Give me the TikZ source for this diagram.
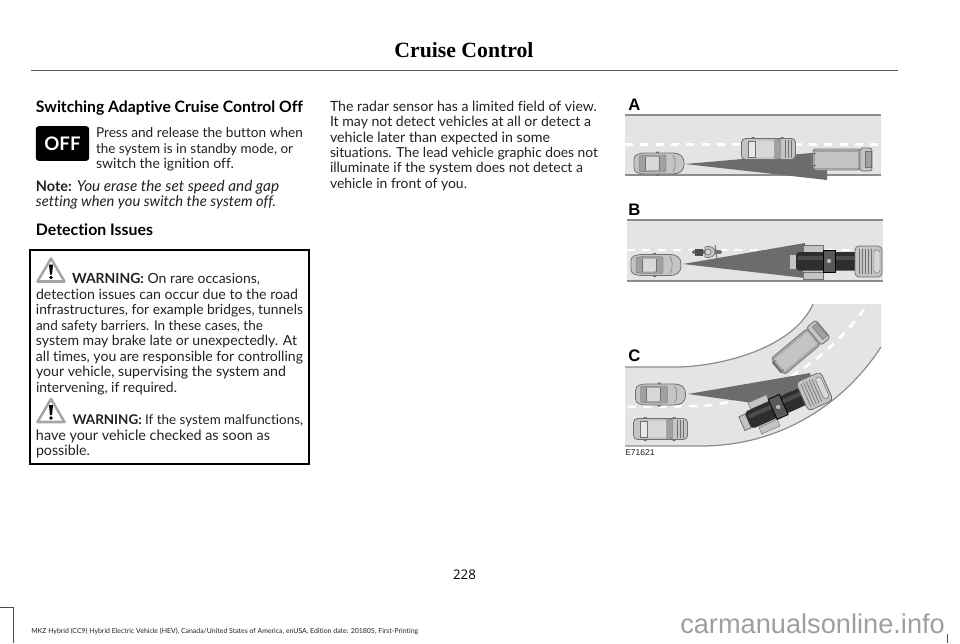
\documentclass[tikz,border=0pt]{standalone}
\usepackage{graphicx}
\usepackage{fontspec}
\setmainfont[Ligatures=NoCommon]{Lato}
\newfontfamily\headfont{Liberation Serif}
\newfontfamily\numfont{Open Sans}
\newfontfamily\lblfont{Liberation Sans}
\definecolor{roadc}{HTML}{E4E4E4}
\definecolor{edgec}{HTML}{8C8C8C}
\definecolor{conec}{HTML}{6C6C6C}
\definecolor{bodyc}{HTML}{C4C4C4}
\definecolor{roofc}{HTML}{D8D8D8}
\definecolor{glassc}{HTML}{A0A0A0}
\definecolor{outc}{HTML}{707070}
\definecolor{inkc}{HTML}{222222}
\newcommand{\ital}[1]{{\fontsize{11.2}{12}\selectfont\itshape #1}}
\newcommand{\fw}[2]{\resizebox{#1pt}{!}{#2}}
\tikzset{
 body/.style={anchor=base west,inner sep=0,outer sep=0,text=inkc,font=\fontsize{10.6}{12}\selectfont},
 head/.style={body,text=black,font=\fontsize{11.9}{13}\bfseries\selectfont},
 letter/.style={anchor=base west,inner sep=0,text=black,font=\lblfont\fontsize{12.5}{14}\bfseries\selectfont},
 veh/.style={fill=bodyc,draw=outc,line width=0.6pt},
 thin/.style={draw=outc,line width=0.35pt},
 roadline/.style={draw=edgec,line width=0.9pt},
 dashline/.style={draw=white,line width=1.9pt,dash pattern=on 6pt off 5.5pt},
 cone/.style={fill=conec,draw=none},
 pics/warnicon/.style={code={
   \draw[draw=gray!70,line width=1.9pt,line join=round,fill=white] (0,0) -- (27,0) -- (13.5,-23) -- cycle;
   \fill[black] (11.5,-17) -- (15.5,-17) -- (14.5,-7) -- (12.5,-7) -- cycle;
   \fill[black] (13.5,-4) circle (1.9);
 }},
 pics/car/.style={code={
   \draw[veh] (-25,-4) .. controls (-25,-9) and (-21,-10.5) .. (-12,-10.5) -- (12,-10.5) .. controls (21,-10.5) and (25,-8) .. (25,0) .. controls (25,8) and (21,10.5) .. (12,10.5) -- (-12,10.5) .. controls (-21,10.5) and (-25,9) .. (-25,4) -- cycle;
   \fill[outc] (-3,-12) rectangle (0,-10.5) (-3,10.5) rectangle (0,12);
   \draw[fill=glassc,thin] (-20,-7.5) -- (-12,-8.5) -- (6,-8.5) -- (7,-6) -- (7,6) -- (6,8.5) -- (-12,8.5) -- (-20,7.5) -- cycle;
   \fill[roofc,rounded corners=1pt] (-14,-6.5) rectangle (0,6.5);
   \draw[thin] (-14,-6.5) -- (-14,6.5) (0,-6.5) -- (0,6.5);
   \draw[thin] (14,-8.5) .. controls (17,-4) and (17,4) .. (14,8.5);
 }},
 pics/suv/.style={code={
   \draw[veh,rounded corners=3pt] (-27,-10.5) rectangle (27,10.5);
   \fill[outc] (12,-12) rectangle (15,-10.5) (12,10.5) rectangle (15,12) (-17,-12) rectangle (-14,-10.5) (-17,10.5) rectangle (-14,12);
   \draw[fill=roofc!60!white,thin] (-20,-8) rectangle (-13,8);
   \fill[roofc] (-13,-8) rectangle (6,8);
   \draw[fill=glassc,thin] (6,-9) -- (12,-9.5) -- (12,9.5) -- (6,9) -- cycle;
   \draw[thin] (17,-9) -- (17,9) (20,-9) -- (20,9) (23,-9) -- (23,9);
 }},
 pics/van/.style={code={
   \draw[veh,rounded corners=2pt] (-29,-10.5) rectangle (18,10.5);
   \fill[glassc] (-28,-9.5) rectangle (17,9.5);
   \fill[bodyc] (-27,-8) rectangle (16,8);
   \draw[veh,rounded corners=2pt] (18,-11.5) rectangle (30,11.5);
   \draw[fill=glassc,thin] (23,-8) rectangle (29,8);
   \fill[outc] (-31,-7) rectangle (-29,7);
   \draw[outc,line width=0.5pt] (-29,-6) -- (-26,-6) (-29,6) -- (-26,6);
 }},
 pics/tanker/.style={code={
   \fill[bodyc] (-33,-17) rectangle (-13,17);
   \draw[thin] (-33,-17) rectangle (-13,-10) (-33,10) rectangle (-13,17);
   \draw[veh] (-47,-8) rectangle (-40,7);
   \draw[outc,line width=0.6pt,fill=bodyc] (12,-10) arc (180:0:5.5);
   \fill[black!82,rounded corners=2.5pt] (-40,-10) rectangle (22,8.5);
   \fill[black!70] (-38,-6) rectangle (20,-2);
   \draw[black,fill=black!65,line width=0.6pt] (-13,-12) rectangle (-1,10);
   \fill[gray!55] (-7,-1) circle (2.2);
   \draw[veh,rounded corners=3pt] (19,-16) rectangle (46,15);
   \foreach \q in {23,26,29,32,35}{\draw[outc,line width=0.5pt] (\q,-13) -- (\q,12);}
   \draw[fill=roofc,thin,rounded corners=2pt] (38,-12) rectangle (44,11);
 }},
 pics/moto/.style={code={
   \fill[outc,rounded corners=1pt] (-15,-1.8) rectangle (15,1.8);
   \fill[black!70] (-12,-3.5) rectangle (-4,3.5);
   \draw[fill=bodyc,draw=outc,line width=0.5pt] (-2,-5) .. controls (5,-7) and (8,-3) .. (8,0) .. controls (8,3) and (5,7) .. (-2,5) -- cycle;
   \draw[fill=roofc,draw=outc,line width=0.5pt] (1,0) circle (3);
   \draw[outc,line width=0.7pt] (8,-7) -- (10,7);
 }}
}
\begin{document}
\begin{tikzpicture}[x=0.75pt,y=-0.75pt]
\useasboundingbox (0,0) rectangle (960,643);
\fill[white] (0,0) rectangle (960,643);
% page head
\node[anchor=base,inner sep=0,text=black,font=\headfont\fontsize{16.3}{20}\bfseries\selectfont] (title) at (464,57) {Cruise Control};
\draw[black!65,line width=1pt] (31,70.5) -- (898,70.5);
% left column (widths in pt: px x 0.75)
\node[head] (h1) at (36,112) {\fw{200.25}{Switching Adaptive Cruise Control Off}};
\node[fill=black,rounded corners=2.2pt,inner sep=0,minimum width=40pt,minimum height=26pt,text=white,font=\fontsize{14}{14}\bfseries\selectfont] (off) at (62.5,143.5) {OFF};
\node[body] (p1) at (96,137.3) {\fw{155.25}{Press and release the button when}};
\node[body] (p2) at (96,153) {\fw{147.75}{the system is in standby mode, or}};
\node[body] (p3) at (96,168.5) {\fw{103.5}{switch the ignition off.}};
\node[body] (n1) at (36,191) {\fw{182.25}{\textbf{Note:} \ital{You erase the set speed and gap}}};
\node[body] (n2) at (36,206.5) {\fw{180}{\ital{setting when you switch the system off.}}};
\node[head] (h2) at (36,235) {Detection Issues};
\draw[black,line width=1.5pt] (30,250) rectangle (309,464);
\pic at (37.5,281.5) {warnicon};
\node[body] (w1) at (72,283) {\fw{141}{\textbf{WARNING:} On rare occasions,}};
\node[body] (w2) at (36,299) {\fw{196.5}{detection issues can occur due to the road}};
\node[body] (w3) at (36,314.6) {\fw{200.25}{infrastructures, for example bridges, tunnels}};
\node[body] (w4) at (36,330) {\fw{170.25}{and safety barriers. In these cases, the}};
\node[body] (w5) at (36,345.5) {\fw{195.75}{system may brake late or unexpectedly. At}};
\node[body] (w6) at (36,361) {\fw{200.25}{all times, you are responsible for controlling}};
\node[body] (w7) at (36,376.7) {\fw{187.5}{your vehicle, supervising the system and}};
\node[body] (w8) at (36,392.2) {\fw{105.75}{intervening, if required.}};
\pic at (37.5,422) {warnicon};
\node[body] (w9) at (72.5,424) {\fw{172.9}{\textbf{WARNING:} If the system malfunctions,}};
\node[body] (w10) at (36,440) {\fw{175.5}{have your vehicle checked as soon as}};
\node[body] (w11) at (36,455.5) {\fw{40.5}{possible.}};
% middle column
\node[body] (m1) at (330,111) {\fw{200.25}{The radar sensor has a limited field of view.}};
\node[body] (m2) at (330,126.5) {\fw{195.75}{It may not detect vehicles at all or detect a}};
\node[body] (m3) at (330,142) {\fw{165}{vehicle later than expected in some}};
\node[body] (m4) at (330,157.3) {\fw{201}{situations. The lead vehicle graphic does not}};
\node[body] (m5) at (330,172.6) {\fw{189.75}{illuminate if the system does not detect a}};
\node[body] (m6) at (330,188) {\fw{102.75}{vehicle in front of you.}};
% A
\node[letter] (la) at (628,110) {A};
\fill[roadc] (625,115) rectangle (881,175);
\draw[roadline] (625,115) -- (881,115) (625,175) -- (881,175);
\draw[dashline] (625,144.5) -- (881,144.5);
\fill[cone] (685,164) -- (812,153) -- (827,165) -- (827,180) -- cycle;
\pic at (659,163.5) {car};
\pic at (768.5,149) {suv};
\pic at (842,159.5) {van};
% B
\node[letter] (lb) at (628,215) {B};
\fill[roadc] (627,220) rectangle (883,281);
\draw[roadline] (627,220) -- (883,220) (627,281) -- (883,281);
\draw[dashline] (627,250) -- (883,250);
\fill[cone] (683,264) -- (805,243) -- (805,278) -- cycle;
\pic at (656,265) {car};
\pic at (707,252) {moto};
\pic at (836,262) {tanker};
% C
\fill[roadc] (625,367) -- (680,367) .. controls (730,365) and (795,345) .. (813,304) -- (881,304) -- (881,347) .. controls (850,395) and (790,445) .. (703,446) -- (625,446) -- cycle;
\draw[roadline] (625,367) -- (680,367) .. controls (730,365) and (795,345) .. (813,304);
\draw[roadline] (881,347) .. controls (850,395) and (790,445) .. (703,446) -- (625,446);
\draw[dashline] (628,407) -- (700,406) .. controls (760,403) and (825,365) .. (867,305);
\fill[cone] (688,394) -- (810,373) -- (815,395) -- (770,410) -- (753,403) -- cycle;
\node[letter] (lc) at (628,361.7) {C};
\pic at (660.5,394.5) {car};
\pic at (660.5,429) {suv};
\pic[rotate=40] at (800,348) {van};
\pic[rotate=24] at (785,405) {tanker};
\node[anchor=base west,inner sep=0,text=inkc,font=\lblfont\fontsize{6.4}{8}\selectfont] (code) at (625,455.6) {E71621};
% foot
\node[anchor=base,inner sep=0,text=black,font=\numfont\fontsize{10}{12}\selectfont] (pageno) at (464.5,579) {228};
\node[anchor=base west,inner sep=0,text=inkc,font=\fontsize{5.2}{7}\selectfont] (foot) at (31,633) {MKZ Hybrid (CC9) Hybrid Electric Vehicle (HEV), Canada/United States of America, enUSA, Edition date: 201805, First-Printing};
\node[anchor=base west,inner sep=0,text=gray!75,font=\lblfont\fontsize{20.4}{24}\selectfont] (wm) at (680,633) {carmanualsonline.info};
\draw[black!70,line width=0.7pt] (0,607) -- (13,607) -- (13,643);
\draw[black!70,line width=0.7pt] (947,634) -- (947,643);
\end{tikzpicture}
\end{document}
